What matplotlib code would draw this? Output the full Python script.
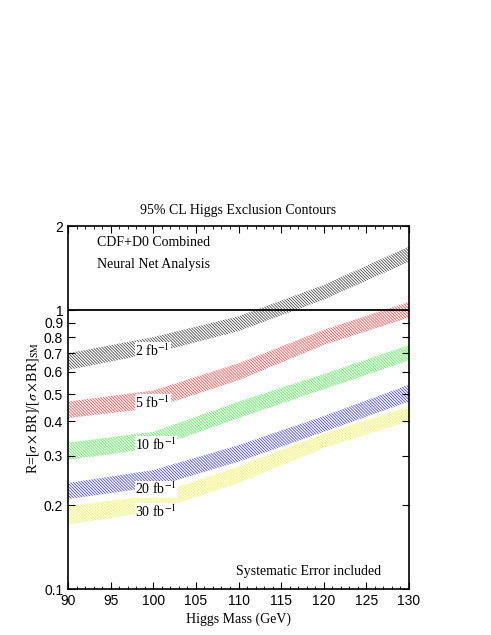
import numpy as np
import matplotlib
matplotlib.use('Agg')
import matplotlib.pyplot as plt
from matplotlib.ticker import FixedLocator, MultipleLocator, NullLocator

plt.rcParams['hatch.linewidth'] = 0.55
plt.rcParams['mathtext.fontset'] = 'stix'

# Higgs mass points (GeV) and band edges (low, high) per luminosity
mass = [90, 100, 110, 120, 130]
lo_2 = [0.61, 0.70, 0.84, 1.09, 1.49]
hi_2 = [0.70, 0.80, 0.95, 1.23, 1.69]
lo_5 = [0.41, 0.445, 0.56, 0.75, 0.94]
hi_5 = [0.47, 0.515, 0.645, 0.85, 1.07]
lo_10 = [0.29, 0.32, 0.41, 0.52, 0.66]
hi_10 = [0.335, 0.366, 0.47, 0.59, 0.75]
lo_20 = [0.21, 0.232, 0.286, 0.366, 0.47]
hi_20 = [0.24, 0.267, 0.328, 0.417, 0.54]
lo_30 = [0.17, 0.19, 0.24, 0.32, 0.40]
hi_30 = [0.198, 0.217, 0.275, 0.36, 0.45]

bands = [
    (lo_2, hi_2, '#000000', '2 fb$^{-1}$', 0.715),
    (lo_5, hi_5, '#ff0000', '5 fb$^{-1}$', 0.466),
    (lo_10, hi_10, '#00ee00', '10 fb$^{-1}$', 0.328),
    (lo_20, hi_20, '#0000ff', '20 fb$^{-1}$', 0.228),
    (lo_30, hi_30, '#eeee00', '30 fb$^{-1}$', 0.189),
]
ytick_vals = [0.1, 0.2, 0.3, 0.4, 0.5, 0.6, 0.7, 0.8, 0.9, 1, 2]
ytick_labels = ['0.1', '0.2', '0.3', '0.4', '0.5', '0.6', '0.7', '0.8', '0.9', '1', '2']

serif = 'Liberation Serif'
sans = 'Liberation Sans'

fig = plt.figure(figsize=(4.91, 6.35), dpi=100)
ax = fig.add_axes([0.1385, 0.0724, 0.6945, 0.5716])

for lo, hi, col, lab, ylab in bands:
    ax.fill_between(mass, lo, hi, facecolor='none', edgecolor=col,
                    hatch='\\' * 11, linewidth=0, alpha=0.75)
    ax.text(97.9, ylab, lab, family=serif, fontsize=10, va='center', ha='left',
            bbox=dict(facecolor='white', edgecolor='none', pad=0.3), zorder=3)

ax.axhline(1, color='black', lw=1.3, zorder=4)

ax.set_xlim(90, 130)
ax.set_yscale('log')
ax.set_ylim(0.1, 2)
ax.xaxis.set_major_locator(MultipleLocator(5))
ax.xaxis.set_minor_locator(MultipleLocator(1))
ax.yaxis.set_major_locator(FixedLocator(ytick_vals))
ax.yaxis.set_minor_locator(NullLocator())
ax.set_yticklabels(ytick_labels)
ax.tick_params(which='both', direction='in', top=True, right=True, labelsize=10)
ax.tick_params(which='major', length=5, width=0.8)
ax.tick_params(which='minor', length=2.5, width=0.6)
for t in ax.get_xticklabels() + ax.get_yticklabels():
    t.set_family(sans)
for s in ax.spines.values():
    s.set_linewidth(1.2)

ax.text(93.4, 1.74, 'CDF+D0 Combined', family=serif, fontsize=10, va='center')
ax.text(93.4, 1.46, 'Neural Net Analysis', family=serif, fontsize=10, va='center')
ax.text(118.2, 0.116, 'Systematic Error included', family=serif, fontsize=10,
        va='center', ha='center')

ax.set_title('95% CL Higgs Exclusion Contours', family=serif, fontsize=10, pad=9)
ax.set_xlabel('Higgs Mass (GeV)', family=serif, fontsize=10, labelpad=3)
ax.set_ylabel(r'R=[$\sigma\times$BR]/[$\sigma\times$BR]$_{\mathrm{SM}}$',
              family=serif, fontsize=10, labelpad=2)

fig.savefig('out.png', dpi=100)
